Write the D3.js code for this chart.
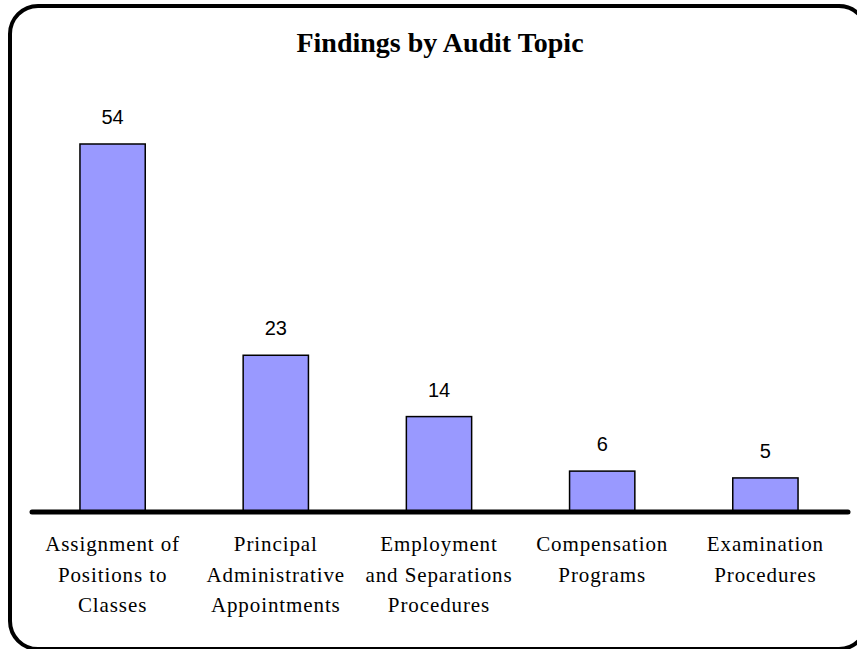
<!DOCTYPE html>
<html>
<head>
<meta charset="utf-8">
<script src="https://cdn.jsdelivr.net/npm/d3@7"></script>
<style>
  html, body { margin: 0; padding: 0; background: #fff; }
  svg { display: block; }
</style>
</head>
<body>
<svg id="chart" width="857" height="649"></svg>
<script>
const title = "Findings by Audit Topic";
const categories = [
  ["Assignment of", "Positions to", "Classes"],
  ["Principal", "Administrative", "Appointments"],
  ["Employment", "and Separations", "Procedures"],
  ["Compensation", "Programs"],
  ["Examination", "Procedures"]
];
const values = [54, 23, 14, 6, 5];

const W = 857, H = 649;
const svg = d3.select("#chart");

// frame
svg.append("rect")
  .attr("x", 10).attr("y", 6)
  .attr("width", 857).attr("height", 643)
  .attr("rx", 28).attr("ry", 28)
  .attr("fill", "#fff").attr("stroke", "#000").attr("stroke-width", 4);

const ids = categories.map((c, i) => i);
const x = d3.scaleBand().domain(ids).range([31, 847]).paddingInner(0.6).paddingOuter(0.3);
const y = d3.scaleLinear().domain([0, 54]).range([512, 144]);

// title
svg.append("text")
  .attr("x", 440).attr("y", 52)
  .attr("text-anchor", "middle")
  .style("font-family", "'Liberation Serif', 'Times New Roman', serif")
  .style("font-weight", "bold")
  .style("font-size", "28px")
  .text(title);

// bars
svg.selectAll("rect.bar").data(values).enter().append("rect")
  .attr("class", "bar")
  .attr("x", (d, i) => x(i))
  .attr("y", d => y(d))
  .attr("width", x.bandwidth())
  .attr("height", d => y(0) - y(d))
  .attr("fill", "#9999FF")
  .attr("stroke", "#000")
  .attr("stroke-width", 1.5);

// value labels
svg.selectAll("text.val").data(values).enter().append("text")
  .attr("class", "val")
  .attr("x", (d, i) => x(i) + x.bandwidth() / 2)
  .attr("y", d => y(d) - 20)
  .attr("text-anchor", "middle")
  .style("font-family", "'Liberation Sans', Arial, sans-serif")
  .style("font-size", "20px")
  .text(d => d);

// axis line
const axis = d3.axisBottom(x).tickSize(0).tickFormat("");
const gAxis = svg.append("g").attr("transform", "translate(0,512)").call(axis);
gAxis.select(".domain").remove();
svg.append("line")
  .attr("x1", 32).attr("x2", 848)
  .attr("y1", y(0)).attr("y2", y(0))
  .attr("stroke", "#000").attr("stroke-width", 5)
  .attr("stroke-linecap", "round");

// category labels
const lab = svg.selectAll("text.cat").data(categories).enter().append("text")
  .attr("class", "cat")
  .attr("text-anchor", "middle")
  .style("font-family", "'Liberation Serif', 'Times New Roman', serif")
  .style("font-size", "21px")
  .style("letter-spacing", "0.9px");
lab.each(function(lines, i) {
  const t = d3.select(this);
  lines.forEach((ln, j) => {
    t.append("tspan")
      .attr("x", x(i) + x.bandwidth() / 2)
      .attr("y", 551 + j * 30.5)
      .text(ln);
  });
});
</script>
</body>
</html>
